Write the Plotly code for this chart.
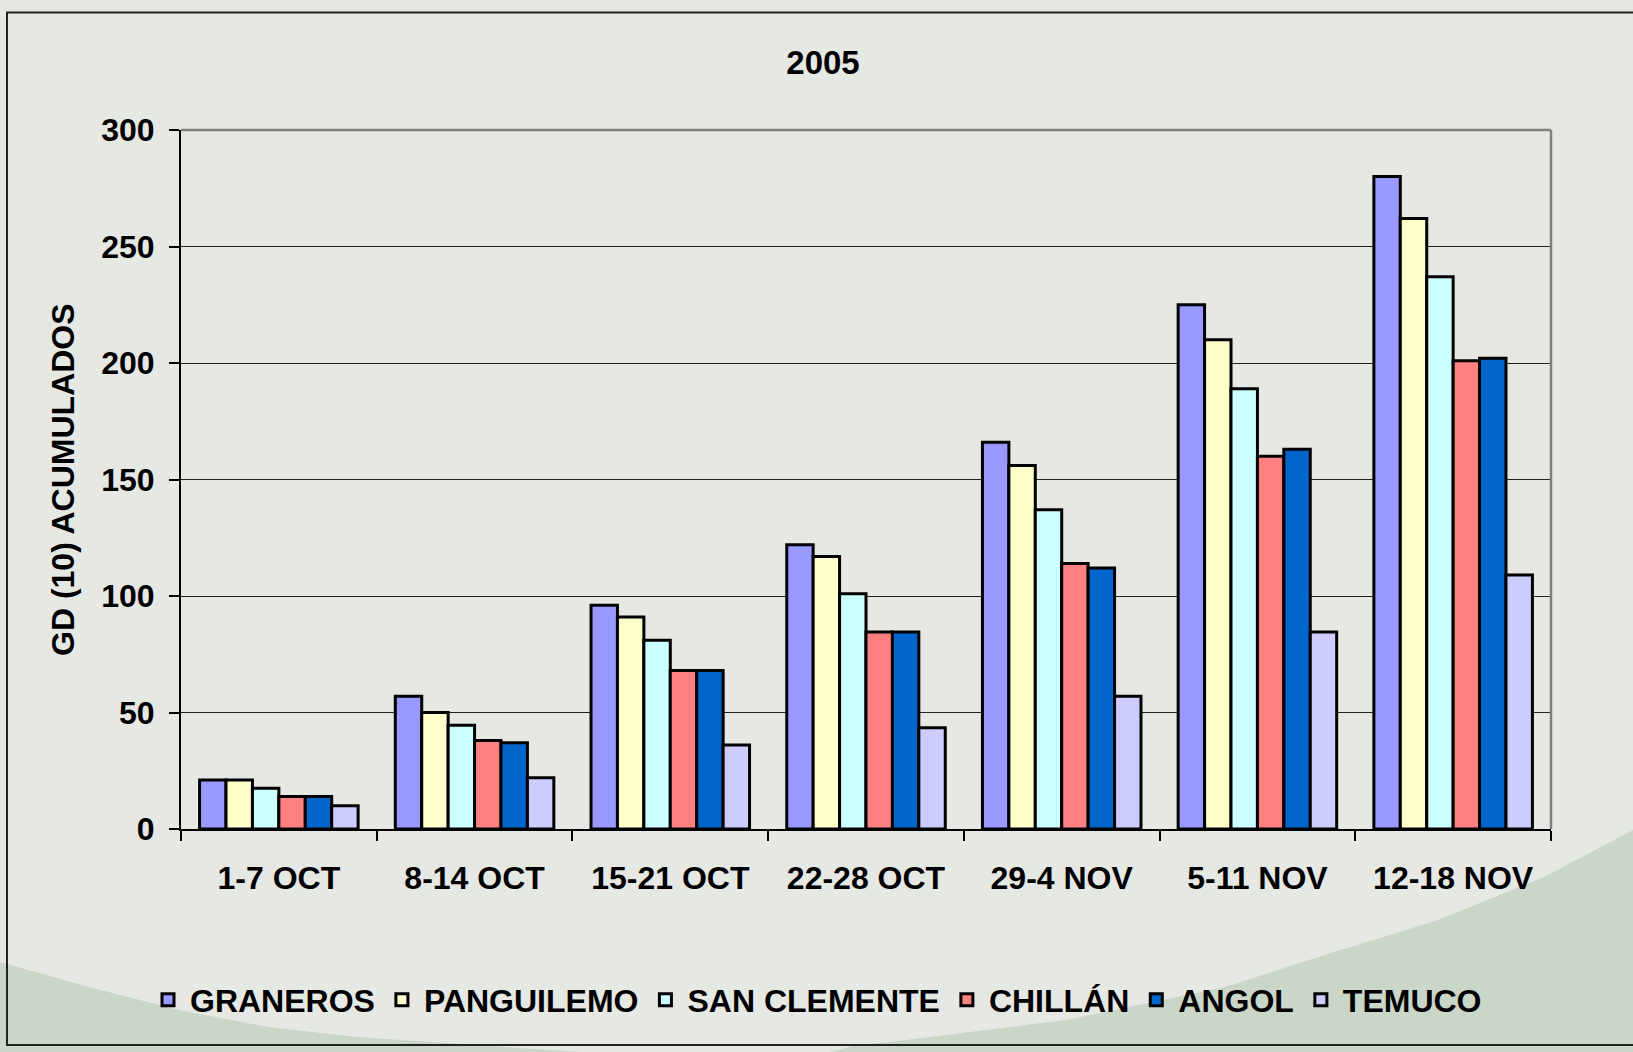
import plotly.graph_objects as go

categories = ["1-7 OCT", "8-14 OCT", "15-21 OCT", "22-28 OCT", "29-4 NOV", "5-11 NOV", "12-18 NOV"]
graneros = [21, 57, 96, 122, 166, 225, 280]
panguilemo = [21, 50, 91, 117, 156, 210, 262]
san_clemente = [17.5, 44.5, 81, 101, 137, 189, 237]
chillan = [14, 38, 68, 84.5, 114, 160, 201]
angol = [14, 37, 68, 84.5, 112, 163, 202]
temuco = [10, 22, 36, 43.5, 57, 84.5, 109]

series_names = ["GRANEROS", "PANGUILEMO", "SAN CLEMENTE", "CHILLÁN", "ANGOL", "TEMUCO"]
series_values = [graneros, panguilemo, san_clemente, chillan, angol, temuco]
colors = ["#9999FF", "#FFFFCC", "#CCFFFF", "#FF8080", "#0066CC", "#CCCCFF"]

W, H = 1633, 1052
L, R, T, B = 181, 1551, 130, 829
FONT = "Liberation Sans, Arial, sans-serif"
BG = "#E6E8E4"
GREEN = "#CAD6C7"


def px(x, y):
    return (x - L) / (R - L), (B - y) / (B - T)


def path(points):
    pts = [px(x, y) for x, y in points]
    return "M " + " L ".join(f"{a:.5f},{b:.5f}" for a, b in pts) + " Z"


fig = go.Figure()
for name, vals, col in zip(series_names, series_values, colors):
    fig.add_trace(go.Bar(
        x=categories, y=vals, name=name,
        marker=dict(color=col, line=dict(color="black", width=3)),
    ))

shapes = []
# green textured corners of the slide background
shapes.append(dict(type="path", xref="paper", yref="paper", layer="below",
                   path=path([(1645, 826), (1633, 830), (1544, 877), (1438, 920), (1331, 953),
                              (1225, 987), (1066, 1020), (906, 1040), (853, 1046), (800, 1060),
                              (1645, 1060)]),
                   fillcolor=GREEN, line=dict(width=0)))
shapes.append(dict(type="path", xref="paper", yref="paper", layer="below",
                   path=path([(-5, 961), (0, 962), (89, 987), (179, 1010), (268, 1027),
                              (357, 1037), (446, 1043), (580, 1052), (600, 1060), (-5, 1060)]),
                   fillcolor=GREEN, line=dict(width=0)))
# outer frame
x0, y0 = px(7, 12.5)
x1, y1 = px(1660, 1045)
shapes.append(dict(type="rect", xref="paper", yref="paper", layer="above",
                   x0=x0, y0=y0, x1=x1, y1=y1, fillcolor="rgba(0,0,0,0)",
                   line=dict(color="#222222", width=2)))
# plot area gray top and right border
shapes.append(dict(type="line", xref="paper", yref="paper", x0=0, x1=1, y0=1, y1=1,
                   line=dict(color="#808080", width=2.5)))
shapes.append(dict(type="line", xref="paper", yref="paper", x0=1, x1=1, y0=0, y1=1,
                   line=dict(color="#808080", width=2.5)))

fig.update_layout(
    width=W, height=H, autosize=False,
    margin=dict(l=L, r=W - R, t=T, b=H - B),
    paper_bgcolor=BG, plot_bgcolor=BG,
    barmode="group", bargap=0.19, bargroupgap=0,
    font=dict(family=FONT, color="black", size=32, weight="bold"),
    title=dict(text="2005", x=0.504, xanchor="center", y=1 - 62 / H, yanchor="middle",
               font=dict(family=FONT, size=33, color="black", weight="bold")),
    showlegend=True,
    legend=dict(orientation="h", xref="container", yref="container", x=0.5, xanchor="center",
                y=1 - 1000 / H, yanchor="middle", bgcolor="rgba(0,0,0,0)",
                font=dict(family=FONT, size=32, color="black", weight="bold"),
                itemwidth=34, tracegroupgap=0),
    shapes=shapes,
    annotations=[dict(text="GD (10) ACUMULADOS", textangle=-90, xref="paper", yref="paper",
                      x=px(62.5, 0)[0], y=0.5, xanchor="center", yanchor="middle",
                      showarrow=False, font=dict(family=FONT, size=32, color="black", weight="bold"))],
)
fig.update_xaxes(
    showline=True, linecolor="black", linewidth=2,
    ticks="outside", tickson="boundaries", ticklen=10, tickcolor="black", tickwidth=1.5,
    tickfont=dict(family=FONT, size=32, color="black", weight="bold"),
    ticklabelstandoff=20, showgrid=False,
)
fig.update_yaxes(
    range=[0, 300], dtick=50, tick0=0,
    showline=True, linecolor="black", linewidth=2,
    ticks="outside", ticklen=10, tickcolor="black", tickwidth=1.5,
    tickfont=dict(family=FONT, size=32, color="black", weight="bold"),
    ticklabelstandoff=8,
    showgrid=True, gridcolor="#222222", gridwidth=1,
    zeroline=False,
)

fig.write_html("out.html", config={"displayModeBar": False},
               post_script="document.body.style.margin='0';document.body.style.background='%s';" % BG)
